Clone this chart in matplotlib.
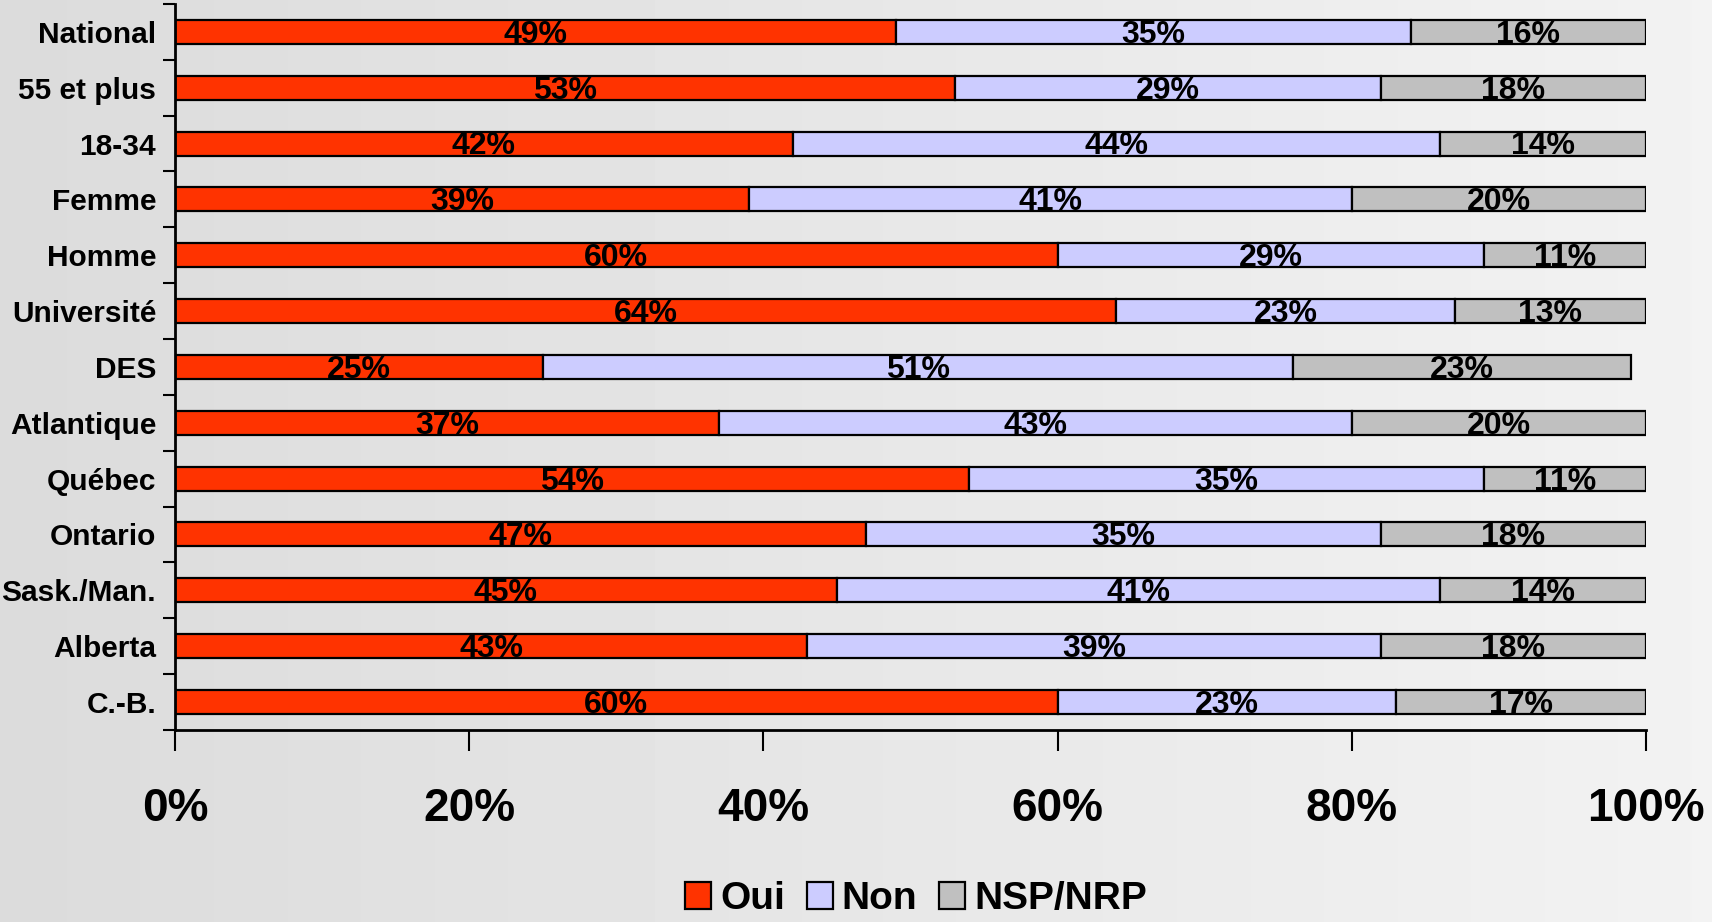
import numpy as np
import matplotlib
matplotlib.use('Agg')
import matplotlib.pyplot as plt
from matplotlib.patches import Patch

categories = ['National', '55 et plus', '18-34', 'Femme', 'Homme', 'Université', 'DES',
              'Atlantique', 'Québec', 'Ontario', 'Sask./Man.', 'Alberta', 'C.-B.']
oui = [49, 53, 42, 39, 60, 64, 25, 37, 54, 47, 45, 43, 60]
non = [35, 29, 44, 41, 29, 23, 51, 43, 35, 35, 41, 39, 23]
nsp = [16, 18, 14, 20, 11, 13, 23, 20, 11, 18, 14, 18, 17]
series_names = ['Oui', 'Non', 'NSP/NRP']
colors = ['#FF3300', '#CCCCFF', '#C0C0C0']
xticks = [0, 20, 40, 60, 80, 100]

plt.rcParams['font.family'] = ['Liberation Sans', 'DejaVu Sans']
plt.rcParams['font.weight'] = 'bold'

fig = plt.figure(figsize=(17.12, 9.22), dpi=100)

# soft grey background, darker on the left
bg = fig.add_axes([0, 0, 1, 1], zorder=-10)
grad = np.linspace(0.86, 0.95, 256).reshape(1, -1)
bg.imshow(grad, aspect='auto', cmap='gray', vmin=0, vmax=1, extent=[0, 1, 0, 1])
bg.axis('off')

ax = fig.add_axes([0.1022, 0.2083, 0.8592, 0.7874])
ax.patch.set_alpha(0)

y = np.arange(len(categories))
h = 0.43
left = np.zeros(len(categories))
for vals, name, col in zip([oui, non, nsp], series_names, colors):
    vals = np.array(vals, dtype=float)
    ax.barh(y, vals, left=left, height=h, color=col, edgecolor='black', linewidth=1.6, label=name)
    for i in range(len(vals)):
        ax.text(left[i] + vals[i] / 2, y[i] + h / 2 - 0.02, f'{int(vals[i])}%', ha='center', va='baseline',
                fontsize=23, fontweight='bold', color='black')
    left += vals

ax.set_xlim(0, 100)
ax.set_ylim(len(categories) - 0.5, -0.5)

ax.set_yticks(y)
ax.set_yticklabels(categories, fontsize=21.5, fontweight='bold')
ax.tick_params(axis='y', which='major', length=0, pad=13.5)
ax.set_yticks(np.arange(-0.5, len(categories), 1), minor=True)
ax.tick_params(axis='y', which='minor', length=9, width=1.5, color='black')

ax.set_xticks(xticks)
ax.set_xticklabels([f'{t}%' for t in xticks], fontsize=33, fontweight='bold')
ax.tick_params(axis='x', length=15, width=1.5, pad=26)

for s in ['top', 'right']:
    ax.spines[s].set_visible(False)
for s in ['left', 'bottom']:
    ax.spines[s].set_linewidth(2)
    ax.spines[s].set_color('black')

handles = [Patch(facecolor=c, edgecolor='black', linewidth=1.6) for c in colors]
fig.legend(handles, series_names, loc='center', bbox_to_anchor=(0.535, 0.025), ncol=3, frameon=False,
           prop={'size': 28, 'weight': 'bold'}, handlelength=0.67, handleheight=0.7,
           handletextpad=0.23, columnspacing=0.56)

fig.savefig('out.png', dpi=100)
